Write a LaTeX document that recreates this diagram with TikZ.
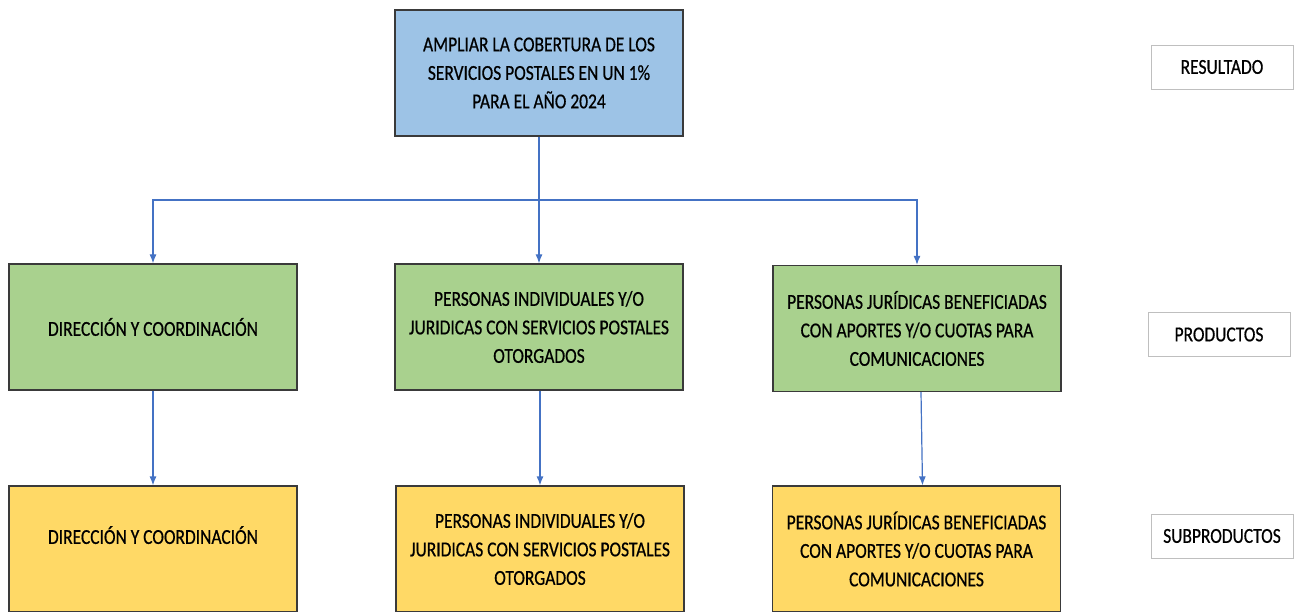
\documentclass[tikz,border=0pt]{standalone}
\usepackage{fontspec}
\setmainfont{Carlito}[FakeStretch=0.82, FakeBold=0.6]
\usetikzlibrary{arrows.meta}

\definecolor{azul}{HTML}{9DC3E6}
\definecolor{verde}{HTML}{A9D18E}
\definecolor{amarillo}{HTML}{FFD966}
\definecolor{linea}{HTML}{4472C4}
\definecolor{borde}{HTML}{3A3A3A}

\tikzset{
  caja/.style={draw=borde, line width=1.2pt, minimum width=288pt, minimum height=126pt,
    align=center, inner sep=0pt, font=\fontsize{21.3}{28.5}\selectfont},
  etiqueta/.style={draw=black!25, line width=0.8pt, minimum width=142pt, minimum height=44pt,
    inner sep=0pt, font=\fontsize{21.3}{22}\selectfont},
  flecha/.style={draw=linea, line width=1.2pt, -{Latex[length=9pt,width=7pt]}}
}

\begin{document}
\begin{tikzpicture}[x=1pt,y=-1pt]
  \useasboundingbox[fill=white] (0,0) rectangle (1299,612);

  % resultado
  \node[caja, fill=azul] (res) at (539,73) {AMPLIAR LA COBERTURA DE LOS\\SERVICIOS POSTALES EN UN 1\%\\PARA EL AÑO 2024};

  % productos
  \node[caja, fill=verde] (p1) at (153,327) {DIRECCIÓN Y COORDINACIÓN};
  \node[caja, fill=verde] (p2) at (539,327) {PERSONAS INDIVIDUALES Y/O\\JURIDICAS CON SERVICIOS POSTALES\\OTORGADOS};
  \node[caja, fill=verde] (p3) at (917,328.5) {PERSONAS JURÍDICAS BENEFICIADAS\\CON APORTES Y/O CUOTAS PARA\\COMUNICACIONES};

  % subproductos
  \node[caja, fill=amarillo, text depth=28pt] (s1) at (153,549) {DIRECCIÓN Y COORDINACIÓN};
  \node[caja, fill=amarillo] (s2) at (540,549) {PERSONAS INDIVIDUALES Y/O\\JURIDICAS CON SERVICIOS POSTALES\\OTORGADOS};
  \node[caja, fill=amarillo] (s3) at (916.5,549) {PERSONAS JURÍDICAS BENEFICIADAS\\CON APORTES Y/O CUOTAS PARA\\COMUNICACIONES};

  % niveles
  \node[etiqueta] (nres) at (1222,67) {RESULTADO};
  \node[etiqueta] (nprod) at (1219,334.5) {PRODUCTOS};
  \node[etiqueta] (nsub) at (1222,536) {SUBPRODUCTOS};

  % conectores
  \coordinate (bar) at (539,200);
  \draw[flecha] (res.south) -- (p2.north);
  \draw[flecha] (bar) -| (p1.north);
  \draw[flecha] (bar) -| (p3.north);
  \draw[flecha] (p1.south) -- (s1.north);
  \draw[flecha] ([xshift=1pt]p2.south) -- (s2.north);
  \draw[flecha] ([xshift=4pt]p3.south) -- ([xshift=6pt]s3.north);
\end{tikzpicture}
\end{document}
